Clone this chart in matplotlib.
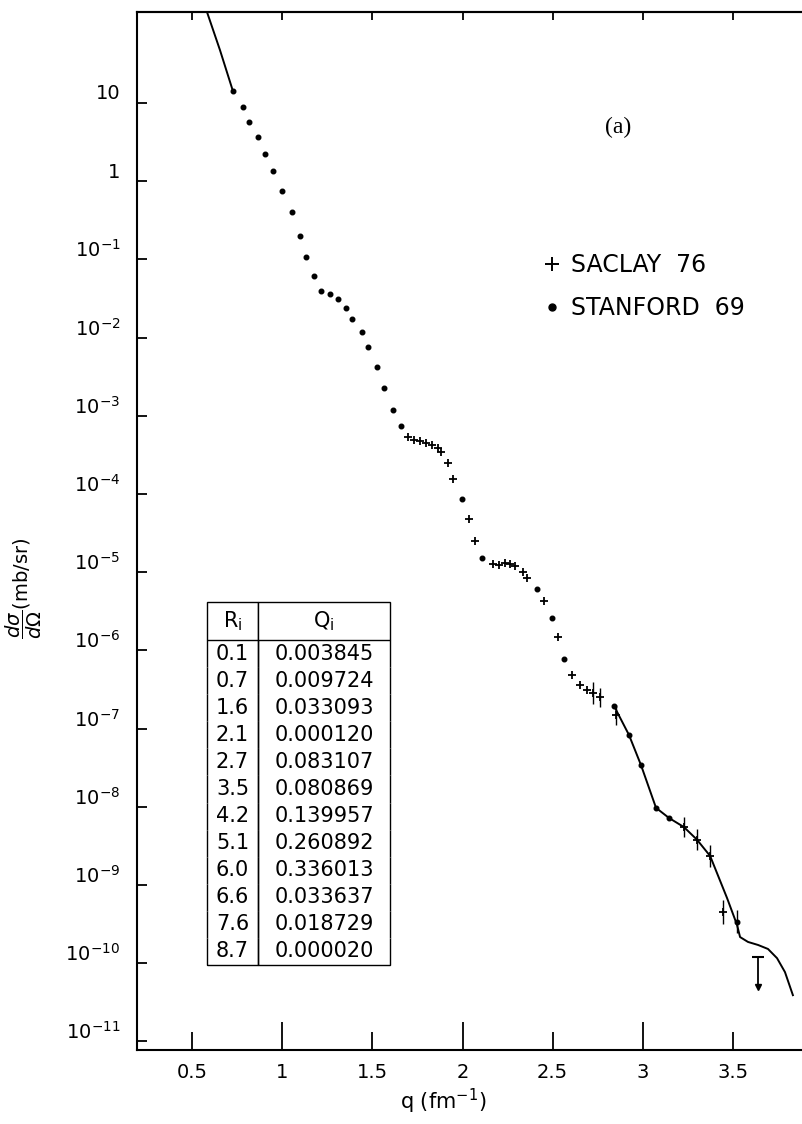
import matplotlib
matplotlib.use('Agg')
import matplotlib.pyplot as plt
import matplotlib.transforms as mtransforms
from matplotlib.lines import Line2D
from matplotlib.ticker import NullLocator
import numpy as np

plt.rcParams['font.family'] = ['DejaVu Sans']
plt.rcParams['mathtext.fontset'] = 'dejavusans'

# Stanford 69 points (q in fm^-1, cross section in mb/sr)
stanford_q = [0.727, 0.783, 0.816, 0.866, 0.905, 0.949, 0.999, 1.055, 1.099, 1.132,
              1.177, 1.215, 1.265, 1.310, 1.354, 1.387, 1.443, 1.476, 1.526, 1.565,
              1.615, 1.659, 1.997, 2.108, 2.413, 2.496, 2.563, 2.840, 2.923, 2.990,
              3.073, 3.145, 3.522]
stanford_xs = [14.2, 8.9, 5.7, 3.67, 2.23, 1.35, 0.75, 0.40, 0.199, 0.107,
               0.061, 0.039, 0.036, 0.031, 0.024, 0.0173, 0.0118, 0.0076, 0.0042, 0.0023,
               0.0012, 7.4e-4, 8.6e-5, 1.52e-5, 6.1e-6, 2.6e-6, 7.8e-7, 1.95e-7, 8.3e-8, 3.4e-8,
               9.7e-9, 7.2e-9, 3.4e-10]
stanford_err = [0] * 32 + [0.15]   # half width in decades

# Saclay 76 points
saclay_q = [1.698, 1.731, 1.764, 1.798, 1.831, 1.864, 1.881, 1.920, 1.947, 2.036,
            2.069, 2.169, 2.202, 2.236, 2.263, 2.291, 2.335, 2.358, 2.452, 2.530,
            2.607, 2.652, 2.690, 2.724, 2.763, 2.851, 3.228, 3.300, 3.373, 3.445]
saclay_xs = [5.4e-4, 4.9e-4, 4.8e-4, 4.5e-4, 4.2e-4, 3.9e-4, 3.4e-4, 2.5e-4, 1.56e-4, 4.8e-5,
             2.5e-5, 1.27e-5, 1.24e-5, 1.31e-5, 1.27e-5, 1.2e-5, 1.0e-5, 8.4e-6, 4.3e-6, 1.48e-6,
             4.8e-7, 3.6e-7, 3.1e-7, 2.85e-7, 2.5e-7, 1.49e-7, 5.5e-9, 3.8e-9, 2.35e-9, 4.5e-10]
saclay_err = [0] * 23 + [0.14, 0.12, 0.13, 0.13, 0.13, 0.14, 0.15]

# upper limit point
limit_q = 3.639
limit_hi = 1.2e-10
limit_lo = 5.0e-11

# fitted curve
theory_top_q = [0.560, 0.583, 0.655, 0.727]
theory_top_xs = [300.0, 146.0, 47.6, 14.2]
theory_q = [2.840, 2.923, 2.990, 3.073, 3.145, 3.228, 3.300, 3.373, 3.467, 3.522,
            3.539, 3.583, 3.639, 3.694, 3.744, 3.788, 3.832]
theory_xs = [1.95e-7, 8.3e-8, 3.4e-8, 9.7e-9, 7.2e-9, 5.5e-9, 3.8e-9, 2.35e-9, 6.8e-10, 3.1e-10,
             2.16e-10, 1.87e-10, 1.71e-10, 1.52e-10, 1.16e-10, 7.7e-11, 3.9e-11]

# table of parameters
R_vals = ['0.1', '0.7', '1.6', '2.1', '2.7', '3.5', '4.2', '5.1', '6.0', '6.6', '7.6', '8.7']
Q_vals = ['0.003845', '0.009724', '0.033093', '0.000120', '0.083107', '0.080869',
          '0.139957', '0.260892', '0.336013', '0.033637', '0.018729', '0.000020']

y_ticks = [10.0 ** k for k in range(1, -12, -1)]
y_labels = ['10', '1'] + [r'$10^{%d}$' % k for k in range(-1, -12, -1)]

W, H = 803, 1124
fig = plt.figure(figsize=(W / 100, H / 100), dpi=100)
ax = fig.add_axes([137 / W, 1 - 1050 / H, 666 / W, 1038 / H])
ax.set_yscale('log')
ax.set_xlim(0.195, 3.888)
ax.set_ylim(10 ** -11.11, 10 ** 2.164)

ax.plot(theory_top_q, theory_top_xs, 'k-', lw=1.4)
ax.plot(theory_q, theory_xs, 'k-', lw=1.4)

s_xs = np.array(stanford_xs)
s_e = np.array(stanford_err)
ax.errorbar(stanford_q, s_xs, yerr=[s_xs * (1 - 10 ** -s_e), s_xs * (10 ** s_e - 1)],
            fmt='o', color='k', ms=3.3, elinewidth=1.0, capsize=0)

c_xs = np.array(saclay_xs)
c_e = np.array(saclay_err)
ax.errorbar(saclay_q, c_xs, yerr=[c_xs * (1 - 10 ** -c_e), c_xs * (10 ** c_e - 1)],
            fmt='+', color='k', ms=6, mew=1.3, elinewidth=1.0, capsize=0)

ax.plot([limit_q, limit_q], [limit_lo, limit_hi], 'k-', lw=1.3)
ax.plot(limit_q, limit_hi, marker='_', color='k', ms=8, mew=1.5)
ax.plot(limit_q, limit_lo, marker='v', color='k', ms=4.5)

# axes / ticks
ax.set_yticks(y_ticks)
ax.set_yticklabels(y_labels)
ax.yaxis.set_minor_locator(NullLocator())
ax.tick_params(axis='y', direction='in', length=7, width=1.3, pad=12, labelsize=14)
offset = mtransforms.ScaledTranslation(0, 8 / 72, fig.dpi_scale_trans)
for lbl in ax.get_yticklabels():
    lbl.set_transform(lbl.get_transform() + offset)

ax.set_xticks([1, 2, 3])
ax.set_xticklabels(['1', '2', '3'])
ax.set_xticks([0.5, 1.5, 2.5, 3.5], minor=True)
ax.set_xticklabels(['0.5', '1.5', '2.5', '3.5'], minor=True)
ax.tick_params(axis='x', which='major', direction='in', length=20, width=1.3, pad=9,
               labelsize=14, top=False)
ax.tick_params(axis='x', which='minor', direction='in', length=13, width=1.3, pad=9,
               labelsize=14, top=False)

top = ax.secondary_xaxis('top')
top.set_xticks([0.5, 1, 1.5, 2, 2.5, 3, 3.5])
top.tick_params(direction='in', length=6, width=1.3, labeltop=False)
top.spines['top'].set_linewidth(1.5)

for side in ['left', 'bottom', 'top']:
    ax.spines[side].set_linewidth(1.5)
ax.spines['right'].set_visible(False)

ax.set_xlabel(r'q (fm$^{-1}$)', fontsize=15)
ax.xaxis.set_label_coords((443 - 137) / 666, -(1087 - 1050) / 1038)
ax.set_ylabel(r'$\dfrac{d\sigma}{d\Omega}$(mb/sr)', fontsize=14)
ax.yaxis.set_label_coords((44 - 137) / 666, 0.445)

ax.text((618 - 137) / 666, (1050 - 127) / 1038, '(a)', transform=ax.transAxes,
        ha='center', va='center', fontsize=17, family='Liberation Serif')

h1 = Line2D([], [], ls='none', marker='+', color='k', ms=10, mew=1.4)
h2 = Line2D([], [], ls='none', marker='o', color='k', ms=5)
ax.legend([h1, h2], ['SACLAY  76', 'STANFORD  69'], loc='upper left',
          bbox_to_anchor=((545 - 137) / 666, (1050 - 253) / 1038), frameon=False,
          handlelength=0.6, handletextpad=0.5, fontsize=17, labelspacing=0.8,
          borderpad=0, borderaxespad=0)

tbl = ax.table(cellText=[[r, q] for r, q in zip(R_vals, Q_vals)],
               colLabels=[r'R$_{\mathrm{i}}$', r'Q$_{\mathrm{i}}$'],
               colWidths=[0.279, 0.721], cellLoc='center',
               bbox=[(207 - 137) / 666, (1050 - 965) / 1038, 183 / 666, 363 / 1038])
tbl.auto_set_font_size(False)
tbl.set_fontsize(15)
n = len(R_vals)
for (r, c), cell in tbl.get_celld().items():
    cell.set_linewidth(1.0)
    if r == 0:
        cell.visible_edges = 'closed'
        cell.set_height(38)
    elif r == n:
        cell.visible_edges = 'LRB'
        cell.set_height(27)
    else:
        cell.visible_edges = 'LR'
        cell.set_height(27)

fig.savefig('out.png', dpi=100)
